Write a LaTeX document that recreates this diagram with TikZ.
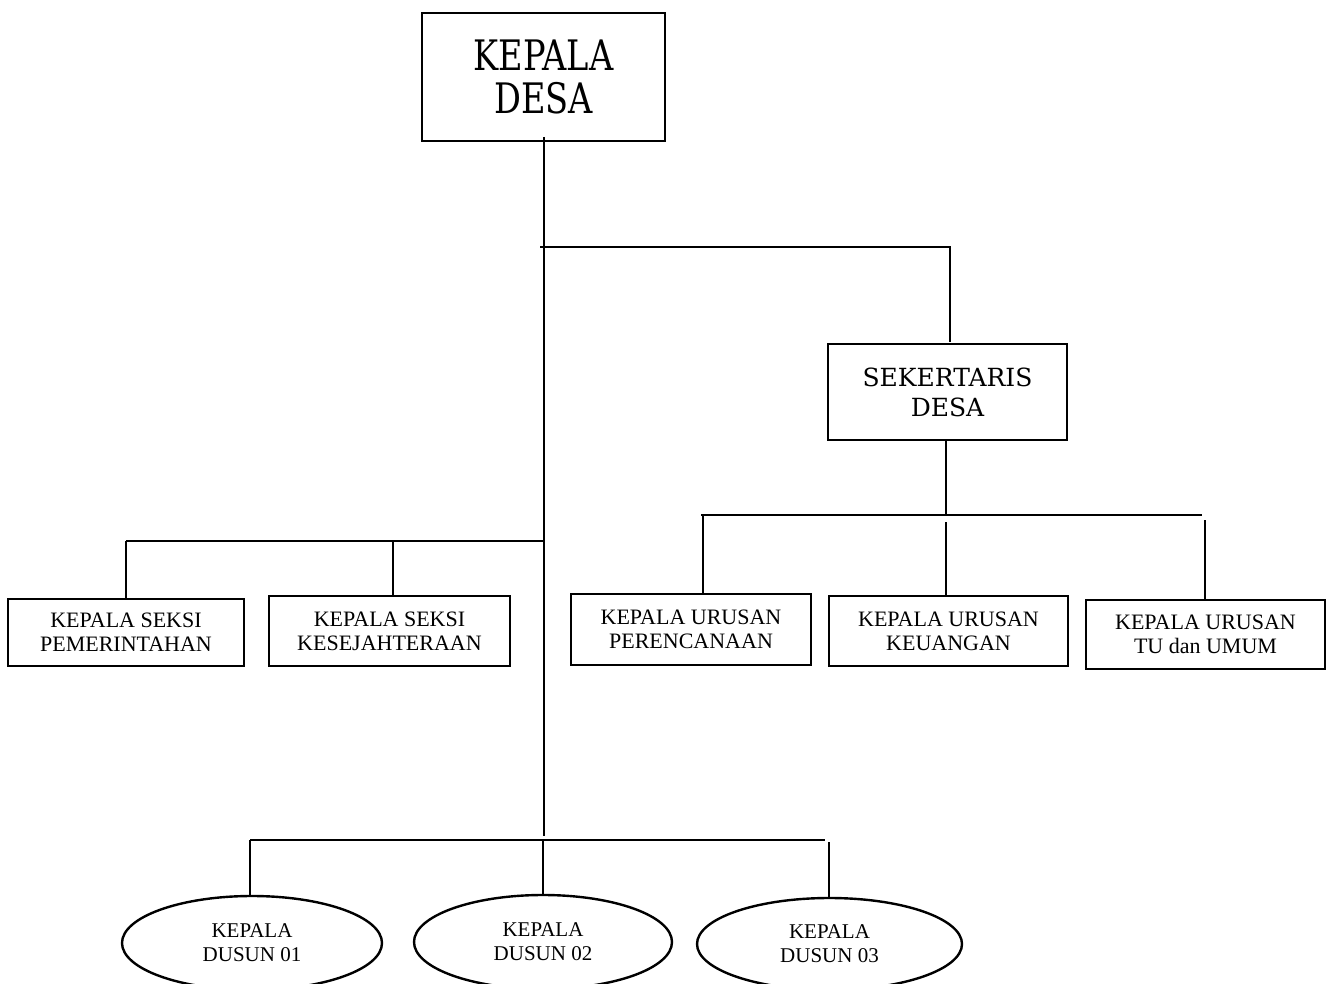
\documentclass[tikz,border=0pt]{standalone}
\usepackage{fontspec}
\setmainfont{Liberation Serif}
\newfontfamily\topfont[FakeStretch=0.8]{DejaVu Serif}
\newfontfamily\secfont{DejaVu Serif}
\usetikzlibrary{shapes.geometric}
\begin{document}
\begin{tikzpicture}[x=1pt,y=-1pt,
  box/.style={draw,line width=2.8pt,inner sep=0pt,align=center,rectangle},
  sbox/.style={box,font=\fontsize{22}{24}\selectfont},
  oval/.style={draw,ellipse,line width=2.4pt,inner sep=0pt,align=center,font=\fontsize{21}{24}\selectfont},
  ln/.style={line width=1.2pt}]
\useasboundingbox (0,0) rectangle (1332,984);

\node[box,minimum width=243pt,minimum height=128pt,font=\topfont\fontsize{42}{43}\selectfont] (kd) at (543.5,77) {KEPALA\\DESA};
\node[box,minimum width=239pt,minimum height=96pt,font=\secfont\fontsize{25}{30}\selectfont] (sek) at (947.5,392) {SEKERTARIS\\DESA};

\node[sbox,minimum width=236pt,minimum height=67pt] (pem) at (126,632.5) {KEPALA SEKSI\\PEMERINTAHAN};
\node[sbox,minimum width=241pt,minimum height=70pt] (kes) at (389.5,631) {KEPALA SEKSI\\KESEJAHTERAAN};
\node[sbox,minimum width=240pt,minimum height=71pt] (per) at (691,629.5) {KEPALA URUSAN\\PERENCANAAN};
\node[sbox,minimum width=239pt,minimum height=70pt] (keu) at (948.5,631) {KEPALA URUSAN\\KEUANGAN};
\node[sbox,minimum width=239pt,minimum height=69pt] (tu) at (1205.5,634.5) {KEPALA URUSAN\\TU dan UMUM};

\node[oval,minimum width=260pt,minimum height=94pt] (d1) at (252,943) {KEPALA\\DUSUN 01};
\node[oval,minimum width=258pt,minimum height=94pt] (d2) at (543,942) {KEPALA\\DUSUN 02};
\node[oval,minimum width=265pt,minimum height=92pt] (d3) at (829.5,944) {KEPALA\\DUSUN 03};

% trunk
\coordinate (trunkTop) at (544,137);
\coordinate (trunkEnd) at (544,836);
\draw[ln] (trunkTop) -- (trunkEnd);

% to sekertaris
\coordinate (hA) at (540,247);
\coordinate (sekIn) at (950,342);
\draw[ln] (hA) -| (sekIn);

% sekertaris group
\coordinate (rL) at (701,515);
\coordinate (rR) at (1202,515);
\coordinate (s2) at (946,522);
\draw[ln] (sek.south -| s2) -- (s2 |- rL);
\draw[ln] (rL) -- (rR);
\coordinate (s1) at (703,515);
\draw[ln] (s1) -- (s1 |- per.north);
\draw[ln] (s2) -- (s2 |- keu.north);
\coordinate (s3) at (1205,520);
\draw[ln] (s3) -- (s3 |- tu.north);

% left group
\coordinate (lL) at (126,541);
\coordinate (lR) at (544,541);
\draw[ln] (lL) -- (lR);
\draw[ln] (lL) -- (lL |- pem.north);
\coordinate (s4) at (393,541);
\draw[ln] (s4) -- (s4 |- kes.north);

% dusun group
\coordinate (bL) at (250,840);
\coordinate (bR) at (825,840);
\draw[ln] (bL) -- (bR);
\draw[ln] (bL) -- (bL |- d1.north);
\coordinate (s5) at (543,840);
\draw[ln] (s5) -- (s5 |- d2.north);
\coordinate (s6) at (829,842);
\draw[ln] (s6) -- (s6 |- d3.north);
\end{tikzpicture}
\end{document}
